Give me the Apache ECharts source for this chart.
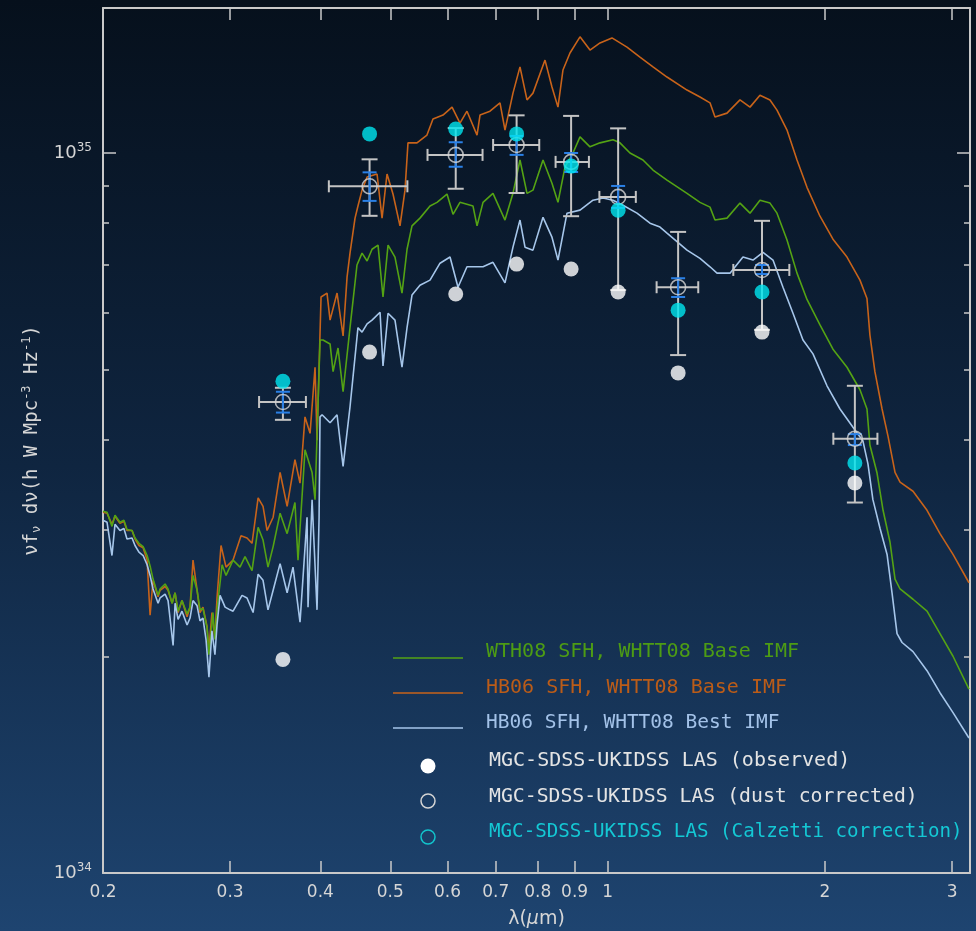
<!DOCTYPE html>
<html>
<head>
<meta charset="utf-8">
<script src="https://cdn.jsdelivr.net/npm/echarts@6/dist/echarts.min.js"></script>
<style>
html,body{margin:0;padding:0;background:#10263f;}
#chart{width:976px;height:931px;}
</style>
</head>
<body>
<div id="chart"></div>
<script>
// ---------------- data (wavelength in micron, flux in units of 1e34 h W Mpc^-3) ----------------
const FLUX_EXP = 34;

// model spectra [lambda, flux/1e34]
const specWTH08Base = [[0.200,3.18],[0.2026,3.17],[0.2058,3.03],[0.2078,3.14],[0.2111,3.07],[0.2138,3.09],[0.2159,3.00],[0.2194,2.99],[0.2215,2.92],[0.2243,2.87],[0.2273,2.84],[0.2302,2.76],[0.2324,2.67],[0.2346,2.56],[0.2384,2.43],[0.2399,2.48],[0.2438,2.52],[0.2461,2.48],[0.2493,2.37],[0.2517,2.45],[0.2541,2.31],[0.2573,2.39],[0.2615,2.29],[0.2640,2.34],[0.2665,2.59],[0.2700,2.47],[0.2725,2.32],[0.2751,2.33],[0.2787,2.19],[0.2804,2.01],[0.2840,2.30],[0.2858,2.11],[0.2877,2.32],[0.2924,2.68],[0.2961,2.59],[0.3028,2.72],[0.3096,2.66],[0.3146,2.75],[0.3217,2.63],[0.3280,3.02],[0.3332,2.90],[0.3385,2.66],[0.3441,2.84],[0.3518,3.16],[0.3598,2.96],[0.3689,3.27],[0.3725,2.72],[0.3809,3.87],[0.3896,3.60],[0.3933,3.30],[0.3996,5.50],[0.4034,5.50],[0.4126,5.43],[0.4166,4.97],[0.4232,5.36],[0.4301,4.66],[0.4397,5.72],[0.4496,6.99],[0.4569,7.26],[0.4643,7.08],[0.4717,7.35],[0.4808,7.45],[0.4885,6.31],[0.4964,7.45],[0.5075,7.17],[0.5190,6.39],[0.5274,7.35],[0.5358,7.92],[0.5496,8.12],[0.5675,8.44],[0.5803,8.54],[0.5991,8.77],[0.6107,8.22],[0.6244,8.54],[0.6509,8.44],[0.6593,7.92],[0.6720,8.54],[0.6937,8.79],[0.7208,8.07],[0.7394,8.79],[0.7561,9.78],[0.7732,8.79],[0.7881,8.88],[0.8137,9.78],[0.8373,9.08],[0.8535,8.54],[0.8728,9.56],[0.8953,10.00],[0.9156,10.53],[0.9453,10.20],[0.9759,10.33],[1.0172,10.43],[1.0401,10.33],[1.0738,10.00],[1.1192,9.78],[1.1556,9.47],[1.2084,9.17],[1.2880,8.79],[1.3425,8.54],[1.3860,8.41],[1.4083,8.07],[1.4632,8.12],[1.5251,8.52],[1.5746,8.25],[1.6255,8.60],[1.6782,8.52],[1.7161,8.25],[1.7718,7.57],[1.8292,6.81],[1.8884,6.26],[1.9683,5.77],[2.0516,5.34],[2.1454,5.04],[2.236,4.69],[2.2866,4.41],[2.308,3.93],[2.3602,3.60],[2.4069,3.19],[2.461,2.88],[2.5006,2.56],[2.541,2.48],[2.6482,2.40],[2.7692,2.31],[2.886,2.15],[3.0086,2.00],[3.1655,1.80]];

const specHB06Base = [[0.200,3.17],[0.2026,3.16],[0.2058,3.05],[0.2078,3.13],[0.2111,3.06],[0.2138,3.08],[0.2159,2.99],[0.2194,2.99],[0.2215,2.91],[0.2243,2.85],[0.2273,2.83],[0.2302,2.72],[0.2324,2.28],[0.2346,2.55],[0.2384,2.42],[0.2399,2.47],[0.2438,2.50],[0.2461,2.47],[0.2493,2.37],[0.2517,2.45],[0.2541,2.30],[0.2573,2.39],[0.2615,2.27],[0.2640,2.34],[0.2665,2.72],[0.2700,2.47],[0.2725,2.30],[0.2751,2.34],[0.2787,2.20],[0.2804,2.04],[0.2831,2.30],[0.2858,2.12],[0.2877,2.41],[0.2914,2.85],[0.2961,2.66],[0.3028,2.72],[0.3106,2.94],[0.3166,2.92],[0.3217,2.87],[0.3280,3.32],[0.3332,3.23],[0.3375,2.99],[0.3441,3.12],[0.3518,3.60],[0.3598,3.23],[0.3689,3.75],[0.3749,3.48],[0.3809,4.30],[0.3871,4.08],[0.3933,5.04],[0.3958,3.99],[0.4009,6.31],[0.4086,6.39],[0.4126,5.86],[0.4219,6.39],[0.4301,5.57],[0.4356,6.73],[0.4397,7.26],[0.4468,8.12],[0.4510,8.44],[0.4569,8.88],[0.4643,9.26],[0.4793,9.35],[0.4870,8.12],[0.4948,9.35],[0.5043,8.77],[0.5157,7.92],[0.5240,8.88],[0.5290,10.33],[0.5444,10.33],[0.5620,10.59],[0.5729,11.15],[0.5915,11.29],[0.6088,11.58],[0.6244,11.00],[0.6385,11.43],[0.6593,10.59],[0.6656,11.29],[0.6871,11.43],[0.7094,11.74],[0.7208,10.76],[0.7394,12.11],[0.7561,13.17],[0.7732,11.85],[0.7881,12.11],[0.8189,13.46],[0.8373,12.35],[0.8535,11.58],[0.8672,13.04],[0.8868,13.77],[0.9156,14.50],[0.9453,13.90],[0.9759,14.22],[1.0139,14.45],[1.0636,14.03],[1.1086,13.59],[1.1556,13.17],[1.2084,12.75],[1.2880,12.23],[1.3425,11.96],[1.3860,11.74],[1.4083,11.22],[1.4632,11.36],[1.5251,11.85],[1.5746,11.58],[1.6255,12.03],[1.6782,11.85],[1.7161,11.47],[1.7718,10.76],[1.8292,9.78],[1.8884,8.96],[1.9683,8.17],[2.0516,7.59],[2.1454,7.17],[2.236,6.66],[2.2866,6.28],[2.308,5.59],[2.3452,4.97],[2.3993,4.41],[2.4455,4.04],[2.5006,3.60],[2.541,3.49],[2.6482,3.39],[2.7692,3.19],[2.886,2.96],[3.0086,2.77],[3.1655,2.53]];

const specHB06Best = [[0.200,3.09],[0.2026,3.07],[0.2058,2.76],[0.2078,3.05],[0.2111,2.99],[0.2138,3.01],[0.2159,2.91],[0.2194,2.92],[0.2215,2.85],[0.2243,2.79],[0.2273,2.76],[0.2302,2.68],[0.2324,2.59],[0.2346,2.48],[0.2384,2.37],[0.2399,2.41],[0.2438,2.44],[0.2461,2.39],[0.2501,2.07],[0.2517,2.37],[0.2541,2.25],[0.2573,2.31],[0.2615,2.21],[0.2640,2.26],[0.2665,2.39],[0.2700,2.35],[0.2725,2.24],[0.2751,2.26],[0.2778,2.11],[0.2804,1.87],[0.2831,2.17],[0.2858,2.01],[0.2877,2.21],[0.2905,2.43],[0.2952,2.34],[0.2999,2.32],[0.3028,2.31],[0.3116,2.43],[0.3166,2.41],[0.3228,2.30],[0.3280,2.60],[0.3332,2.55],[0.3385,2.32],[0.3441,2.47],[0.3518,2.69],[0.3598,2.45],[0.3666,2.66],[0.3749,2.23],[0.3834,3.12],[0.3846,2.34],[0.3896,3.30],[0.3958,2.32],[0.3984,3.12],[0.3996,4.30],[0.4022,4.33],[0.4126,4.22],[0.4219,4.33],[0.4301,3.67],[0.4397,4.44],[0.4510,5.72],[0.4569,5.64],[0.4643,5.79],[0.4717,5.86],[0.4839,6.01],[0.4885,5.06],[0.4964,5.99],[0.5075,5.86],[0.5190,5.04],[0.5274,5.72],[0.5358,6.35],[0.5496,6.55],[0.5675,6.66],[0.5859,7.03],[0.6049,7.17],[0.6205,6.51],[0.6385,6.95],[0.6720,6.95],[0.6937,7.05],[0.7208,6.60],[0.7394,7.40],[0.7561,8.07],[0.7683,7.40],[0.7881,7.33],[0.8137,8.14],[0.8373,7.64],[0.8535,7.10],[0.8784,8.25],[0.9156,8.33],[0.9544,8.60],[0.9853,8.66],[1.0172,8.60],[1.0501,8.46],[1.0981,8.25],[1.1446,7.99],[1.1817,7.89],[1.2084,7.74],[1.2880,7.33],[1.3425,7.14],[1.3860,6.95],[1.4173,6.81],[1.4773,6.81],[1.5397,7.17],[1.5897,7.10],[1.6411,7.28],[1.6943,7.10],[1.7492,6.51],[1.8060,5.99],[1.8644,5.50],[1.9249,5.26],[2.0128,4.75],[2.098,4.41],[2.1868,4.16],[2.2575,3.98],[2.2937,3.70],[2.3302,3.30],[2.384,3.01],[2.4379,2.77],[2.4768,2.45],[2.5166,2.15],[2.5573,2.09],[2.6482,2.03],[2.7692,1.91],[2.886,1.78],[3.0086,1.67],[3.1655,1.54]];

// photometric bands (u g r i z Y J H K)
const bandCenter = [0.355, 0.468, 0.616, 0.748, 0.890, 1.034, 1.252, 1.636, 2.200];
const bandLow    = [0.329, 0.411, 0.563, 0.694, 0.847, 0.974, 1.169, 1.493, 2.054];
const bandHigh   = [0.382, 0.528, 0.671, 0.804, 0.942, 1.094, 1.335, 1.785, 2.364];

const observed   = [1.98, 5.29, 6.37, 7.01, 6.90, 6.41, 4.95, 5.64, 3.48];
const dustCorr   = [4.51, 8.99, 9.94, 10.26, 9.72, 8.69, 6.51, 6.88, 4.01];
const calzetti   = [4.82, 10.63, 10.80, 10.63, 9.59, 8.33, 6.05, 6.41, 3.71];
const dustErrLow  = [4.26, 8.18, 8.92, 8.80, 8.17, 6.45, 5.24, 5.68, 3.27];
const dustErrHigh = [4.72, 9.80, 10.83, 11.28, 11.26, 10.82, 7.77, 8.05, 4.75];
const statErrLow  = [4.36, 8.58, 9.57, 9.94, 9.41, 8.39, 6.31, 6.79, 3.93];
const statErrHigh = [4.66, 9.40, 10.35, 10.56, 10.00, 9.00, 6.70, 6.99, 4.07];

// axes
const xRange = [0.2, 3.176];
const yRange = [1e34, 1.59e35];
const xTickLabels = [0.2, 0.3, 0.4, 0.5, 0.6, 0.7, 0.8, 0.9, 1, 2, 3];
const yMajorTicks = [1e34, 1e35];
const yMinorTicks = [2e34, 3e34, 4e34, 5e34, 6e34, 7e34, 8e34, 9e34];

// ---------------- build ----------------
const LOG = Math.log10;
const toPt = ([l, f]) => [LOG(l), FLUX_EXP + LOG(f)];
const xMin = LOG(xRange[0]), xMax = LOG(xRange[1]);
const yMin = LOG(yRange[0]), yMax = LOG(yRange[1]);
const xTickVals = xTickLabels.map(LOG);
const yMajorVals = yMajorTicks.map(LOG);
const yMinorVals = yMinorTicks.map(LOG);

const AX = '#c9c9c9';
const FONT = 'DejaVu Sans';
const MONO = 'DejaVu Sans Mono';

const C_GREEN = '#54a314', C_ORANGE = '#c8631a', C_BLUE = '#a6c6ea', C_CYAN = '#00e6f0';

const errData = bandCenter.map((c, i) => [
  LOG(c), FLUX_EXP + LOG(dustCorr[i]), LOG(bandLow[i]), LOG(bandHigh[i]),
  FLUX_EXP + LOG(dustErrLow[i]), FLUX_EXP + LOG(dustErrHigh[i]),
  FLUX_EXP + LOG(statErrLow[i]), FLUX_EXP + LOG(statErrHigh[i])
]);
const pts = arr => bandCenter.map((c, i) => [LOG(c), FLUX_EXP + LOG(arr[i])]);

function yTickAxis(pos, vals, len, withLine, withLabel, extra) {
  return Object.assign({
    type: 'value', position: pos, min: yMin, max: yMax, gridIndex: 0,
    axisLine: {show: withLine, onZero: false, lineStyle: {color: AX, width: 2}},
    axisTick: {show: true, inside: true, length: len, customValues: vals, lineStyle: {color: AX, width: 1.5}},
    axisLabel: withLabel ? {
      show: true, customValues: yMajorVals, margin: 11,
      formatter: v => '{b|10}{s|' + Math.round(v) + '}',
      rich: {
        b: {fontFamily: FONT, fontSize: 18, color: '#d6d6d6', lineHeight: 22},
        s: {fontFamily: FONT, fontSize: 12, color: '#d6d6d6', lineHeight: 12, verticalAlign: 'top'}
      }
    } : {show: false},
    splitLine: {show: false}
  }, extra || {});
}

const option = {
  animation: false,
  backgroundColor: {
    type: 'linear', x: 0, y: 0, x2: 0, y2: 1,
    colorStops: [{offset: 0, color: '#06101c'}, {offset: 0.5, color: '#0f2540'}, {offset: 1, color: '#1e4470'}]
  },
  grid: {left: 103, right: 6, top: 8, bottom: 58, containLabel: false, outerBoundsMode: 'none'},
  xAxis: [
    {
      type: 'value', position: 'bottom', min: xMin, max: xMax,
      axisLine: {show: true, onZero: false, lineStyle: {color: AX, width: 2}},
      axisTick: {show: true, inside: true, length: 12, customValues: xTickVals, lineStyle: {color: AX, width: 1.5}},
      axisLabel: {
        show: true, customValues: xTickVals, margin: 11, color: '#d6d6d6', fontFamily: FONT, fontSize: 17,
        formatter: v => String(Math.round(Math.pow(10, v) * 10) / 10)
      },
      splitLine: {show: false},
      name: '{n|λ(}{i|μ}{n|m)}', nameLocation: 'middle', nameGap: 37,
      nameTextStyle: {
        rich: {
          n: {fontFamily: FONT, fontSize: 19, color: '#d6d6d6'},
          i: {fontFamily: FONT, fontSize: 19, color: '#d6d6d6', fontStyle: 'italic'}
        }
      }
    },
    {
      type: 'value', position: 'top', min: xMin, max: xMax,
      axisLine: {show: true, onZero: false, lineStyle: {color: AX, width: 2}},
      axisTick: {show: true, inside: true, length: 12, customValues: xTickVals, lineStyle: {color: AX, width: 1.5}},
      axisLabel: {show: false}, splitLine: {show: false}
    }
  ],
  yAxis: [
    yTickAxis('left', yMajorVals, 13, true, true, {
      name: '{n|νf}{sub|ν}{n| dν(h W Mpc}{sup|-3}{n| Hz}{sup|-1}{n|)}',
      nameLocation: 'middle', nameGap: 58, nameRotate: 90,
      nameTextStyle: {
        rich: {
          n: {fontFamily: MONO, fontSize: 19, color: '#d6d6d6', lineHeight: 22},
          sub: {fontFamily: MONO, fontSize: 12, color: '#d6d6d6', lineHeight: 12, verticalAlign: 'bottom'},
          sup: {fontFamily: MONO, fontSize: 12, color: '#d6d6d6', lineHeight: 12, verticalAlign: 'top'}
        }
      }
    }),
    yTickAxis('left', yMinorVals, 6, false, false),
    yTickAxis('right', yMajorVals, 13, true, false),
    yTickAxis('right', yMinorVals, 6, false, false)
  ],
  series: [
    {
      name: 'HB06 SFH, WHTT08 Base IMF', type: 'line', data: specHB06Base.map(toPt),
      showSymbol: false, symbol: 'none', lineStyle: {color: C_ORANGE, width: 1.6}, z: 2
    },
    {
      name: 'WTH08 SFH, WHTT08 Base IMF', type: 'line', data: specWTH08Base.map(toPt),
      showSymbol: false, symbol: 'none', lineStyle: {color: C_GREEN, width: 1.6}, z: 2
    },
    {
      name: 'HB06 SFH, WHTT08 Best IMF', type: 'line', data: specHB06Best.map(toPt),
      showSymbol: false, symbol: 'none', lineStyle: {color: C_BLUE, width: 1.6}, z: 2
    },
    {
      name: 'errors', type: 'custom', data: errData, z: 3,
      encode: {x: [0, 2, 3], y: [1, 4, 5, 6, 7]},
      renderItem: (params, api) => {
        const x = api.value(0), y = api.value(1);
        const p = api.coord([x, y]);
        const xl = api.coord([api.value(2), y])[0], xh = api.coord([api.value(3), y])[0];
        const yl = api.coord([x, api.value(4)])[1], yh = api.coord([x, api.value(5)])[1];
        const bl = api.coord([x, api.value(6)])[1], bh = api.coord([x, api.value(7)])[1];
        const g = {stroke: '#c4c4c4', lineWidth: 2};
        const b = {stroke: '#2a80e6', lineWidth: 2};
        const cw = 8, ch = 6, bw = 7;
        const L = (x1, y1, x2, y2, s) => ({type: 'line', shape: {x1, y1, x2, y2}, style: s});
        return {type: 'group', children: [
          L(xl, p[1], xh, p[1], g), L(xl, p[1] - ch, xl, p[1] + ch, g), L(xh, p[1] - ch, xh, p[1] + ch, g),
          L(p[0], yl, p[0], yh, g), L(p[0] - cw, yl, p[0] + cw, yl, g), L(p[0] - cw, yh, p[0] + cw, yh, g),
          L(p[0], bl, p[0], bh, b), L(p[0] - bw, bl, p[0] + bw, bl, b), L(p[0] - bw, bh, p[0] + bw, bh, b)
        ]};
      }
    },
    {
      name: 'MGC-SDSS-UKIDSS LAS (dust corrected)', type: 'scatter', data: pts(dustCorr), z: 4,
      symbol: 'circle', symbolSize: 15,
      itemStyle: {color: 'rgba(0,0,0,0)', borderColor: '#d4d4d4', borderWidth: 1.6}
    },
    {
      name: 'MGC-SDSS-UKIDSS LAS (Calzetti correction)', type: 'scatter', data: pts(calzetti), z: 5,
      symbol: 'circle', symbolSize: 15, itemStyle: {color: C_CYAN}
    },
    {
      name: 'MGC-SDSS-UKIDSS LAS (observed)', type: 'scatter', data: pts(observed), z: 6,
      symbol: 'circle', symbolSize: 15, itemStyle: {color: '#ffffff'}
    }
  ],
  graphic: [
    // legend (line samples)
    {type: 'line', shape: {x1: 393, y1: 658, x2: 463, y2: 658}, style: {stroke: C_GREEN, lineWidth: 1.6}, z: 10},
    {type: 'line', shape: {x1: 393, y1: 693, x2: 463, y2: 693}, style: {stroke: C_ORANGE, lineWidth: 1.6}, z: 10},
    {type: 'line', shape: {x1: 393, y1: 728, x2: 463, y2: 728}, style: {stroke: C_BLUE, lineWidth: 1.6}, z: 10},
    {type: 'text', x: 486, y: 652, z: 10, style: {text: 'WTH08 SFH, WHTT08 Base IMF', fill: '#4d9c14', font: '20px "DejaVu Sans Mono"', verticalAlign: 'middle'}},
    {type: 'text', x: 486, y: 688, z: 10, style: {text: 'HB06 SFH, WHTT08 Base IMF', fill: '#bb5c18', font: '20px "DejaVu Sans Mono"', verticalAlign: 'middle'}},
    {type: 'text', x: 486, y: 723, z: 10, style: {text: 'HB06 SFH, WHTT08 Best IMF', fill: '#a3c2e8', font: '19.5px "DejaVu Sans Mono"', verticalAlign: 'middle'}},
    // legend (markers)
    {type: 'circle', shape: {cx: 428, cy: 766, r: 7.5}, style: {fill: '#ffffff'}, z: 10},
    {type: 'circle', shape: {cx: 428, cy: 801, r: 7}, style: {fill: 'none', stroke: '#d4d4d4', lineWidth: 1.5}, z: 10},
    {type: 'circle', shape: {cx: 428, cy: 837, r: 7}, style: {fill: 'none', stroke: '#12c4cc', lineWidth: 1.5}, z: 10},
    {type: 'text', x: 489, y: 761, z: 10, style: {text: 'MGC-SDSS-UKIDSS LAS (observed)', fill: '#e4e4e4', font: '20px "DejaVu Sans Mono"', verticalAlign: 'middle'}},
    {type: 'text', x: 489, y: 797, z: 10, style: {text: 'MGC-SDSS-UKIDSS LAS (dust corrected)', fill: '#e4e4e4', font: '19.8px "DejaVu Sans Mono"', verticalAlign: 'middle'}},
    {type: 'text', x: 489, y: 832, z: 10, style: {text: 'MGC-SDSS-UKIDSS LAS (Calzetti correction)', fill: '#14c8d4', font: '19.2px "DejaVu Sans Mono"', verticalAlign: 'middle'}}
  ]
};

const chart = echarts.init(document.getElementById('chart'), null, {renderer: 'canvas'});
chart.setOption(option);
</script>
</body>
</html>
